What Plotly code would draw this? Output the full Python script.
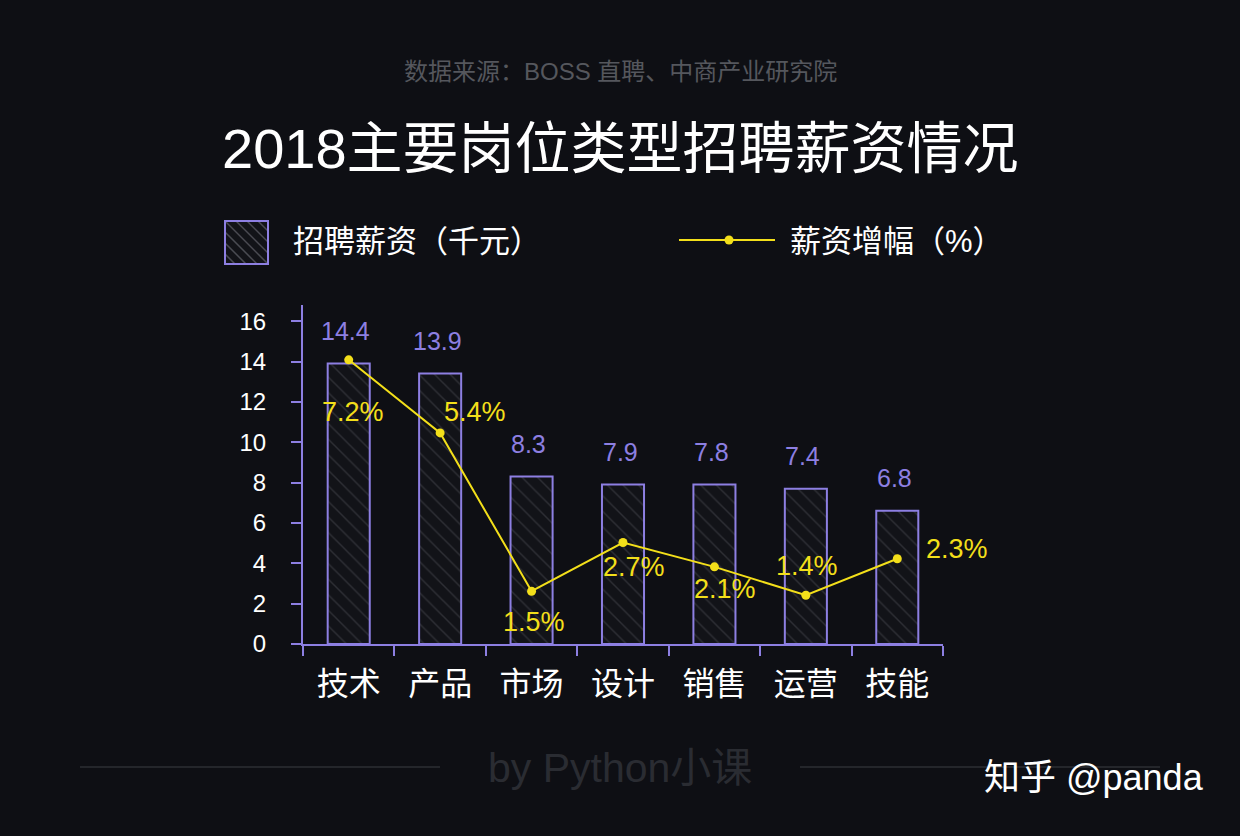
import plotly.graph_objects as go

# ---- data ----
categories = ["技术", "产品", "市场", "设计", "销售", "运营", "技能"]
salary_bar = [13.9, 13.4, 8.3, 7.9, 7.9, 7.7, 6.6]          # bar heights as drawn
salary_labels = ["14.4", "13.9", "8.3", "7.9", "7.8", "7.4", "6.8"]
growth_pct = [7.2, 5.4, 1.5, 2.7, 2.1, 1.4, 2.3]
growth_labels = ["7.2%", "5.4%", "1.5%", "2.7%", "2.1%", "1.4%", "2.3%"]
y_ticks = [0, 2, 4, 6, 8, 10, 12, 14, 16]

# ---- style ----
BG = "#0e0f14"
PURPLE = "#8d7fe2"
YELLOW = "#f3df1a"
WHITE = "#ffffff"
FONT = "Liberation Sans, Noto Sans CJK SC"

W, H = 1240, 836
L, R, T, B = 303, 943, 305, 644


def px(x):
    return (x - L) / (R - L)


def py(y):
    return (B - y) / (B - T)


fig = go.Figure()

fig.add_trace(go.Bar(
    x=categories, y=salary_bar, width=0.46,
    marker=dict(
        color="#121318",
        line=dict(color=PURPLE, width=2),
        pattern=dict(shape="\\", fgcolor="#4a4b52", bgcolor="#121318",
                     size=11, solidity=0.13),
    ),
    showlegend=False, hoverinfo="skip",
))

fig.add_trace(go.Scatter(
    x=categories, y=growth_pct, yaxis="y2", mode="lines+markers",
    line=dict(color=YELLOW, width=2),
    marker=dict(color=YELLOW, size=9),
    showlegend=False, hoverinfo="skip",
))

annotations = []
# bar value labels
for c, v, t in zip(categories, salary_bar, salary_labels):
    annotations.append(dict(
        x=c, y=v, xref="x", yref="y", text=t, showarrow=False,
        yshift=33, xshift=-3, font=dict(family=FONT, size=25, color=PURPLE),
        xanchor="center", yanchor="middle",
    ))

# growth labels
pct_xshift = [4, 35, 2, 11, 11, 1, 60]
pct_yshift = [-52, 21, -31, -24, -22, 29, 10]
for c, v, t, dx, dy in zip(categories, growth_pct, growth_labels, pct_xshift, pct_yshift):
    annotations.append(dict(
        x=c, y=v, xref="x", yref="y2", text=t, showarrow=False,
        xshift=dx, yshift=dy, font=dict(family=FONT, size=27, color=YELLOW),
        xanchor="center", yanchor="middle",
    ))

# titles / texts
annotations += [
    dict(x=px(620), y=py(71), xref="paper", yref="paper", showarrow=False,
         text="数据来源：BOSS 直聘、中商产业研究院",
         font=dict(family=FONT, size=24, color="#55575d"),
         xanchor="center", yanchor="middle"),
    dict(x=px(620), y=py(148), xref="paper", yref="paper", showarrow=False,
         text="2018主要岗位类型招聘薪资情况",
         font=dict(family=FONT, size=56, color=WHITE),
         xanchor="center", yanchor="middle"),
    dict(x=px(291), y=py(242), xref="paper", yref="paper", showarrow=False,
         text="招聘薪资（千元）",
         font=dict(family=FONT, size=31, color=WHITE),
         xanchor="left", yanchor="middle"),
    dict(x=px(788), y=py(242), xref="paper", yref="paper", showarrow=False,
         text="薪资增幅（%）",
         font=dict(family=FONT, size=31, color=WHITE),
         xanchor="left", yanchor="middle"),
    dict(x=px(620), y=py(768), xref="paper", yref="paper", showarrow=False,
         text="by Python小课",
         font=dict(family=FONT, size=41, color="#2a2c32"),
         xanchor="center", yanchor="middle"),
    dict(x=px(1206), y=py(777), xref="paper", yref="paper", showarrow=False,
         text="知乎 @panda",
         font=dict(family=FONT, size=36, color=WHITE),
         xanchor="right", yanchor="middle"),
]

shapes = []
# legend: hatched box
bx0, by0, bx1, by1 = 225, 221, 268, 264
shapes.append(dict(type="rect", xref="paper", yref="paper",
                   x0=px(bx0), x1=px(bx1), y0=py(by1), y1=py(by0),
                   fillcolor="#121318", line=dict(width=0), layer="above"))
size = bx1 - bx0
for c in range(-44, 45, 11):
    pts = []
    for t in range(0, size + 1):
        x = t
        y = t - c
        if 0 <= y <= size:
            pts.append((x, y))
    if len(pts) >= 2:
        (xa, ya), (xb, yb) = pts[0], pts[-1]
        shapes.append(dict(type="line", xref="paper", yref="paper",
                           x0=px(bx0 + xa), y0=py(by0 + ya),
                           x1=px(bx0 + xb), y1=py(by0 + yb),
                           line=dict(color="#4a4b52", width=1.5), layer="above"))
shapes.append(dict(type="rect", xref="paper", yref="paper",
                   x0=px(bx0), x1=px(bx1), y0=py(by1), y1=py(by0),
                   line=dict(color=PURPLE, width=2), layer="above"))
# legend: line with dot
shapes.append(dict(type="line", xref="paper", yref="paper",
                   x0=px(679), x1=px(775), y0=py(240), y1=py(240),
                   line=dict(color=YELLOW, width=2), layer="above"))
shapes.append(dict(type="circle", xref="paper", yref="paper",
                   x0=px(724.5), x1=px(733.5), y0=py(244.5), y1=py(235.5),
                   fillcolor=YELLOW, line=dict(width=0), layer="above"))
# footer lines
for xa, xb in [(80, 440), (800, 1160)]:
    shapes.append(dict(type="line", xref="paper", yref="paper",
                       x0=px(xa), x1=px(xb), y0=py(767), y1=py(767),
                       line=dict(color="#24262b", width=2), layer="below"))

fig.update_layout(
    width=W, height=H,
    margin=dict(l=L, r=W - R, t=T, b=H - B),
    paper_bgcolor=BG, plot_bgcolor=BG,
    showlegend=False,
    font=dict(family=FONT, color=WHITE),
    xaxis=dict(
        type="category", range=[-0.5, 6.5],
        showline=True, linecolor=PURPLE, linewidth=2,
        ticks="outside", tickson="boundaries", ticklen=10, tickwidth=2,
        tickcolor=PURPLE, showgrid=False, zeroline=False,
        tickfont=dict(family=FONT, size=32, color=WHITE),
        ticklabelstandoff=11,
    ),
    yaxis=dict(
        range=[0, 16.8], tickvals=y_ticks,
        showline=True, linecolor=PURPLE, linewidth=2,
        ticks="outside", ticklen=10, tickwidth=2, tickcolor=PURPLE,
        showgrid=False, zeroline=False,
        tickfont=dict(family=FONT, size=24, color=WHITE),
        ticklabelstandoff=20,
    ),
    yaxis2=dict(overlaying="y", range=[0.2, 8.55], visible=False),
    annotations=annotations,
    shapes=shapes,
)

fig.write_html("out.html")
